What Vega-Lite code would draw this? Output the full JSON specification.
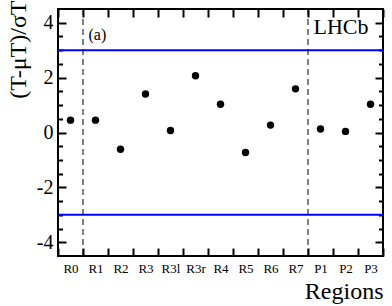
{
  "$schema": "https://vega.github.io/schema/vega-lite/v6.json",
  "width": 325,
  "height": 247,
  "autosize": {"type": "none"},
  "padding": {"left": 58, "top": 9, "right": 9, "bottom": 50},
  "background": "white",
  "config": {
    "view": {"stroke": "black", "strokeWidth": 2},
    "font": "Liberation Serif",
    "axis": {"labelFont": "Liberation Serif", "titleFont": "Liberation Serif", "labelColor": "black", "titleColor": "black", "tickColor": "#000000", "ticks": true, "tickOpacity": 1, "grid": false, "domain": false, "titleFontWeight": "normal", "tickWidth": 2}
  },
  "datasets": {
    "pts": [
      {"region": "R0", "pull": 0.45},
      {"region": "R1", "pull": 0.45},
      {"region": "R2", "pull": -0.61},
      {"region": "R3", "pull": 1.4},
      {"region": "R3l", "pull": 0.07},
      {"region": "R3r", "pull": 2.07},
      {"region": "R4", "pull": 1.03},
      {"region": "R5", "pull": -0.73},
      {"region": "R6", "pull": 0.27},
      {"region": "R7", "pull": 1.59},
      {"region": "P1", "pull": 0.13},
      {"region": "P2", "pull": 0.04},
      {"region": "P3", "pull": 1.03}
    ]
  },
  "resolve": {"axis": {"x": "independent", "y": "independent"}},
  "layer": [
    {
      "data": {"values": [{"lim": 3}, {"lim": -3}]},
      "mark": {"type": "rule", "color": "#0000ff", "strokeWidth": 2},
      "encoding": {
        "y": {"field": "lim", "type": "quantitative", "scale": {"domain": [-4.5, 4.5], "nice": false}, "axis": null}
      }
    },
    {
      "data": {"values": [{"sep": "R1"}, {"sep": "P1"}]},
      "mark": {"type": "rule", "color": "black", "strokeWidth": 1, "strokeDash": [6, 4]},
      "encoding": {
        "x": {"field": "sep", "type": "nominal", "bandPosition": 0, "sort": null,
              "scale": {"type": "band", "domain": ["R0","R1","R2","R3","R3l","R3r","R4","R5","R6","R7","P1","P2","P3"], "paddingInner": 0, "paddingOuter": 0}, "axis": null}
      }
    },
    {
      "data": {"name": "pts"},
      "mark": {"type": "point", "filled": true, "color": "black", "size": 55, "opacity": 1},
      "encoding": {
        "x": {"field": "region", "type": "nominal", "sort": null,
              "scale": {"type": "band", "domain": ["R0","R1","R2","R3","R3l","R3r","R4","R5","R6","R7","P1","P2","P3"], "paddingInner": 0, "paddingOuter": 0},
              "axis": {"orient": "bottom", "title": "Regions", "tickBand": "extent", "labelAngle": 0, "labelFont": "Liberation Serif", "labelFontSize": 13, "labelPadding": 6,
                       "offset": -8, "tickSize": 8, "tickColor": "black", "tickWidth": 2, "titleFont": "Liberation Serif", "titleFontSize": 24, "titleAnchor": "end", "titlePadding": 4}},
        "y": {"field": "pull", "type": "quantitative", "scale": {"domain": [-4.5, 4.5], "nice": false},
              "axis": {"orient": "left", "title": "(T-μT)/σT", "values": [-4, -2, 0, 2, 4],
                       "labelExpr": "'' + datum.value", "labelFont": "Liberation Serif", "labelFontSize": 20, "labelPadding": 5,
                       "offset": -8, "tickSize": 8, "tickColor": "black", "tickWidth": 2,
                       "titleFont": "Liberation Serif", "titleFontSize": 24, "titleAnchor": "end", "titlePadding": 6, "titleY": -9}}
      }
    },
    {
      "data": {"name": "pts"},
      "mark": {"type": "point", "opacity": 0},
      "encoding": {
        "x": {"field": "region", "type": "nominal", "sort": null,
              "scale": {"type": "band", "domain": ["R0","R1","R2","R3","R3l","R3r","R4","R5","R6","R7","P1","P2","P3"], "paddingInner": 0, "paddingOuter": 0}, "axis": null},
        "y": {"field": "pull", "type": "quantitative", "scale": {"domain": [-4.5, 4.5], "nice": false},
              "axis": {"orient": "left", "title": null, "labels": false, "values": [-3.5,-3,-2.5,-1.5,-1,-0.5,0.5,1,1.5,2.5,3,3.5],
                       "offset": -4.5, "tickSize": 4.5, "tickColor": "black", "tickWidth": 2}}
      }
    },
    {
      "data": {"name": "pts"},
      "mark": {"type": "point", "opacity": 0},
      "encoding": {
        "x": {"field": "region", "type": "nominal", "sort": null,
              "scale": {"type": "band", "domain": ["R0","R1","R2","R3","R3l","R3r","R4","R5","R6","R7","P1","P2","P3"], "paddingInner": 0, "paddingOuter": 0}, "axis": null},
        "y": {"field": "pull", "type": "quantitative", "scale": {"domain": [-4.5, 4.5], "nice": false},
              "axis": {"orient": "right", "title": null, "labels": false, "values": [-3.5,-3,-2.5,-1.5,-1,-0.5,0.5,1,1.5,2.5,3,3.5],
                       "offset": -4.5, "tickSize": 4.5, "tickColor": "black", "tickWidth": 2}}
      }
    },
    {
      "data": {"values": [{"label": "(a)", "region": "R1", "y": 3.37, "size": 16}, {"label": "LHCb", "region": "P1", "y": 3.59, "size": 22}]},
      "mark": {"type": "text", "align": "left", "baseline": "alphabetic", "color": "black", "font": "Liberation Serif"},
      "encoding": {
        "x": {"field": "region", "type": "nominal", "bandPosition": 0.22, "sort": null,
              "scale": {"type": "band", "domain": ["R0","R1","R2","R3","R3l","R3r","R4","R5","R6","R7","P1","P2","P3"], "paddingInner": 0, "paddingOuter": 0},
              "axis": {"orient": "top", "title": null, "labels": false, "tickBand": "extent", "offset": -8, "tickSize": 8, "tickColor": "black", "tickWidth": 2}},
        "y": {"field": "y", "type": "quantitative", "scale": {"domain": [-4.5, 4.5], "nice": false},
              "axis": {"orient": "right", "title": null, "labels": false, "values": [-4, -2, 0, 2, 4], "offset": -8, "tickSize": 8, "tickColor": "black", "tickWidth": 2}},
        "text": {"field": "label"},
        "size": {"field": "size", "type": "quantitative", "scale": null}
      }
    }
  ]
}
